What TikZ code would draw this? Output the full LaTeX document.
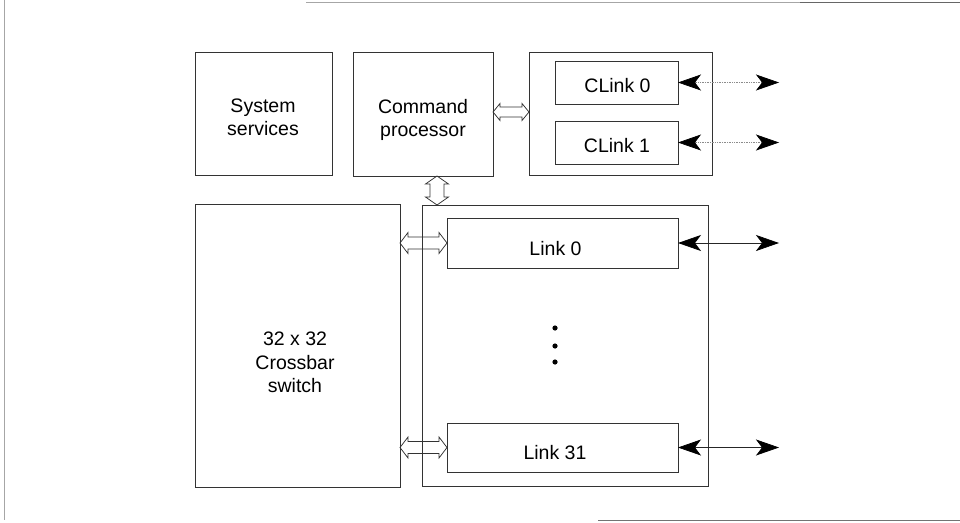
\documentclass[tikz,border=0pt]{standalone}
\usepackage{fontspec}
\setmainfont{Liberation Sans}
\usetikzlibrary{arrows.meta,calc,backgrounds}
\begin{document}
\begin{tikzpicture}[x=1pt,y=-1pt,
  line/.style={draw=black!80, line width=0.75pt},
  box/.style={line, rectangle, inner sep=0pt, outer sep=0pt},
  lbl/.style={font=\fontsize{19.5}{23.5}\selectfont, align=center, inner sep=0pt, text=black},
  >={Stealth[length=23pt,width=16pt,inset=6pt,color=black]},
  link/.style={line width=0.7pt, draw=black!85, <->},
  clink/.style={line width=0.7pt, draw=black!45, densely dotted, <->},
  frame/.style={draw=black!35, line width=0.6pt},
  hollowh/.style n args={3}{to path={let \p1=(\tikztostart),\p2=(\tikztotarget) in
    -- (\x1+#3,\y1+#1) -- (\x1+#3,\y1+#2) -- (\x2-#3,\y1+#2) -- (\x2-#3,\y1+#1)
    -- (\x2,\y1) -- (\x2-#3,\y1-#1) -- (\x2-#3,\y1-#2) -- (\x1+#3,\y1-#2)
    -- (\x1+#3,\y1-#1) -- cycle}},
  hollowv/.style n args={3}{to path={let \p1=(\tikztostart),\p2=(\tikztotarget) in
    -- (\x1-#1,\y1-#3) -- (\x1-#2,\y1-#3) -- (\x1-#2,\y2+#3) -- (\x1-#1,\y2+#3)
    -- (\x1,\y2) -- (\x1+#1,\y2+#3) -- (\x1+#2,\y2+#3) -- (\x1+#2,\y1-#3)
    -- (\x1+#1,\y1-#3) -- cycle}}
]
\useasboundingbox (0,0) rectangle (960,522);

% boxes
\node[box, minimum width=137pt, minimum height=123pt] (ss)  at (263.5,113.5) {};
\node[box, minimum width=140pt, minimum height=124pt] (cp)  at (423,114) {};
\node[box, minimum width=183pt, minimum height=123pt] (clc) at (620.5,113.5) {};
\node[box, minimum width=123pt, minimum height=43pt]  (cl0) at (616.5,82.5) {};
\node[box, minimum width=123pt, minimum height=43pt]  (cl1) at (616.5,142.5) {};
\node[box, minimum width=205pt, minimum height=283pt] (xb)  at (297.5,345.5) {};
\node[box, minimum width=286pt, minimum height=281pt] (lc)  at (565,345.5) {};
\node[box, minimum width=231pt, minimum height=50pt]  (l0)  at (562.5,243) {};
\node[box, minimum width=231pt, minimum height=49pt]  (l31) at (562.5,447.5) {};

% labels
\node[lbl] (tss)  at (263,117.5) {System\\services};
\node[lbl] (tcp)  at (423,120) {Command\\processor};
\node[lbl] (tcl0) at (617.5,86) {CLink 0};
\node[lbl] (tcl1) at (617,145.5) {CLink 1};
\node[lbl] (tl0)  at (555.5,249) {Link 0};
\node[lbl] (tl31) at (555,453) {Link 31};
\node[lbl] (txb)  at (295,362.5) {32 x 32\\Crossbar\\switch};

% hollow double arrows (behind the boxes)
\begin{pgfonlayer}{background}
  \draw[line, fill=white] ([yshift=2pt]cp.east) to[hollowh={8.5pt}{5pt}{7pt}] (clc.west);
  \draw[line, fill=white] ([xshift=14pt]cp.south) to[hollowv={11.5pt}{7pt}{8pt}] (lc.north);
  \draw[line, fill=white] (xb.east |- l0.west) to[hollowh={10.5pt}{6pt}{8pt}] (l0.west);
  \draw[line, fill=white] (xb.east |- l31.west) to[hollowh={10.5pt}{6pt}{8pt}] (l31.west);
  % faint outer frame of the scan
  \draw[frame] (4,0) -- (4,520);
  \draw[frame] (306,2) -- (960,2);
  \draw[frame, draw=black!60] (800,2) -- (960,2);
  \draw[frame, draw=black!55] (598,520) -- (960,520);
\end{pgfonlayer}

% external links
\coordinate (e0)  at (779,82.5);
\coordinate (e1)  at (779,142.5);
\coordinate (e2)  at (779,243);
\coordinate (e31) at (779,447.5);
\draw[clink] (cl0.east) -- (e0);
\draw[clink] (cl1.east) -- (e1);
\draw[link] (l0.east) -- (e2);
\draw[link] (l31.east) -- (e31);

% ellipsis dots
\fill[black] (555,328) circle (2.6pt);
\fill[black] (555,346) circle (2.6pt);
\fill[black] (555,362) circle (2.6pt);
\end{tikzpicture}
\end{document}
